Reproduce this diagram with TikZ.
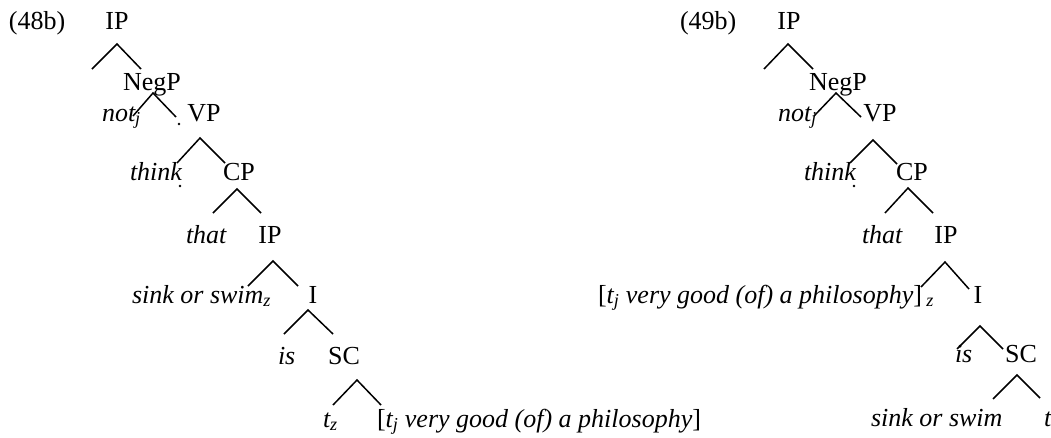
\documentclass[tikz,border=0pt]{standalone}
\usepackage{fontspec}
\setmainfont{Liberation Serif}
\newcommand\mybranch[4]{%
  \coordinate (#1a) at (#2);
  \coordinate (#1l) at (#3);
  \coordinate (#1r) at (#4);
  \draw[branch] (#1l) -- (#1a) -- (#1r);}
\begin{document}
\begin{tikzpicture}[x=1pt,y=-1pt,
  every node/.style={font=\fontsize{26}{30}\selectfont, inner sep=0pt, outer sep=0pt},
  lab/.style={anchor=base west},
  cat/.style={anchor=base},
  wrd/.style={anchor=base west, font=\fontsize{26}{30}\selectfont\itshape},
  branch/.style={line width=1.5pt, line cap=butt, line join=miter},
  speck/.style={fill=black, draw=none}]
\useasboundingbox (0,0) rectangle (1051,437);
\fill[white] (0,0) rectangle (1051,437);
% ---------------- (48b) ----------------
\node[lab] (ex48) at (9,29) {(48b)};
\node[cat] (aIP) at (117,29) {IP};
\mybranch{aip}{117,44}{92,69}{141,69}
\node[cat] (aNegP) at (152,90) {NegP};
\node[wrd] (anot) at (102,121) {not\textsubscript{j}};
\node[cat] (aVP) at (204,121) {VP};
\mybranch{aneg}{153,93}{133,116}{176,117}
\fill[speck] (179,124) circle (1.4);
\mybranch{avp}{200,138}{177,163}{225,163}
\node[wrd] (athink) at (130,180) {think};
\fill[speck] (180,186) circle (1.4);
\node[cat] (aCP) at (239,180) {CP};
\mybranch{acp}{237,189}{213,213}{261,213}
\node[wrd] (athat) at (186,243) {that};
\node[cat] (aIP2) at (270,243) {IP};
\mybranch{aip2}{273,261}{248,286}{298,286}
\node[wrd] (asink) at (132,303) {sink or swim\textsubscript{z}};
\node[cat] (aI) at (313,303) {I};
\mybranch{ai}{308,310}{284,334}{333,334}
\node[wrd] (ais) at (278,364) {is};
\node[cat] (aSC) at (344,364) {SC};
\mybranch{asc}{357,380}{333,405}{381,405}
\node[wrd] (atz) at (323,427) {t\textsubscript{z}};
\node[lab] (adp) at (377,427) {[\textit{t\textsubscript{j} very good (of) a philosophy}]};
% ---------------- (49b) ----------------
\node[lab] (ex49) at (680,29) {(49b)};
\node[cat] (bIP) at (789,29) {IP};
\mybranch{bip}{788,44}{764,69}{813,69}
\node[cat] (bNegP) at (838,90) {NegP};
\node[wrd] (bnot) at (778,121) {not\textsubscript{j}};
\node[cat] (bVP) at (880,121) {VP};
\mybranch{bneg}{836,93}{814,116}{861,117}
\mybranch{bvp}{873,140}{850,163}{897,164}
\node[wrd] (bthink) at (804,180) {think};
\fill[speck] (854,186) circle (1.4);
\node[cat] (bCP) at (912,180) {CP};
\mybranch{bcp}{908,188}{885,213}{933,213}
\node[wrd] (bthat) at (862,243) {that};
\node[cat] (bIP2) at (946,243) {IP};
\mybranch{bip2}{945,262}{921,287}{969,289}
\node[lab] (bdp) at (598,303) {[\textit{t\textsubscript{j} very good (of) a philosophy}]\,\textsubscript{\textit{z}}};
\node[cat] (bI) at (978,303) {I};
\mybranch{bi}{980,326}{957,349}{1003,349}
\node[wrd] (bis) at (955,362) {is};
\node[cat] (bSC) at (1021,362) {SC};
\mybranch{bsc}{1017,375}{993,399}{1040,398}
\node[wrd] (bsink) at (871,426) {sink or swim};
\node[wrd] (bt) at (1044,426) {t};
\end{tikzpicture}
\end{document}
